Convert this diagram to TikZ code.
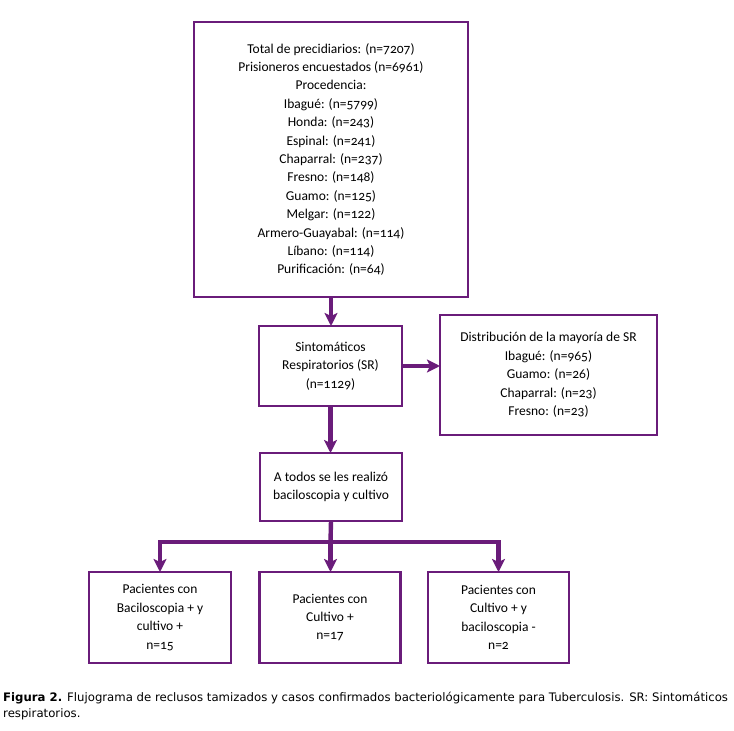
\documentclass[tikz,border=0pt]{standalone}
\usepackage{fontspec}
\setmainfont{Carlito}[Numbers=OldStyle]
\newfontfamily\capfont{DejaVu Sans}
\usetikzlibrary{arrows.meta}
\definecolor{purp}{RGB}{106,28,122}
\tikzset{
  box/.style={draw=purp, line width=2.6pt, inner sep=0pt, outer sep=0pt, align=center,
    font=\fontsize{13.5}{18.4}\selectfont},
  arr/.style={draw=purp, line width=4.4pt, -{Stealth[width=13pt,length=13pt,inset=3pt]}},
  ln/.style={draw=purp, line width=4.4pt}
}
\begin{document}
\begin{tikzpicture}[x=1pt,y=-1pt]
\useasboundingbox (0,0) rectangle (734,731);
\node[box, minimum width=274pt, minimum height=275pt] (b1) at (331,159.5) {Total de precidiarios: (n=7207)\\Prisioneros encuestados (n=6961)\\Procedencia:\\Ibagué: (n=5799)\\Honda: (n=243)\\Espinal: (n=241)\\Chaparral: (n=237)\\Fresno: (n=148)\\Guamo: (n=125)\\Melgar: (n=122)\\Armero-Guayabal: (n=114)\\Líbano: (n=114)\\Purificación: (n=64)};
\node[box, minimum width=143pt, minimum height=80pt] (b2) at (330.5,366) {Sintomáticos\\Respiratorios (SR)\\(n=1129)};
\node[box, minimum width=217pt, minimum height=120pt] (b3) at (548.5,375) {Distribución de la mayoría de SR\\Ibagué: (n=965)\\Guamo: (n=26)\\Chaparral: (n=23)\\Fresno: (n=23)};
\node[box, minimum width=142pt, minimum height=68pt] (b4) at (331,487) {A todos se les realizó\\baciloscopia y cultivo};
\node[box, minimum width=142pt, minimum height=91pt] (b5) at (160,617.5) {Pacientes con\\Baciloscopia + y\\cultivo +\\n=15};
\node[box, minimum width=141pt, minimum height=91pt] (b6) at (330,617.5) {Pacientes con\\Cultivo +\\n=17};
\node[box, minimum width=141pt, minimum height=91pt] (b7) at (498.5,617.5) {Pacientes con\\Cultivo + y\\baciloscopia -\\n=2};
\coordinate (br) at (330.5,542);
\draw[arr] (b1.south) -- (b1.south |- b2.north);
\draw[arr] (b2.east) -- (b2.east -| b3.west);
\draw[arr] (b2.south) -- (b2.south |- b4.north);
\draw[ln] (b4.south) -- (br);
\draw[arr] (br) -- (br |- b6.north);
\draw[arr] ([xshift=2.2pt]br) -| (b5.north);
\draw[arr] ([xshift=-2.2pt]br) -| (b7.north);
\node[anchor=base west, inner sep=0pt, font=\capfont\fontsize{11.7}{16}\selectfont] (cap1) at (3,701) {\textbf{Figura 2.} Flujograma de reclusos tamizados y casos confirmados bacteriológicamente para Tuberculosis. SR: Sintomáticos};
\node[anchor=base west, inner sep=0pt, font=\capfont\fontsize{11.7}{16}\selectfont] (cap2) at (3,717) {respiratorios.};
\end{tikzpicture}
\end{document}
